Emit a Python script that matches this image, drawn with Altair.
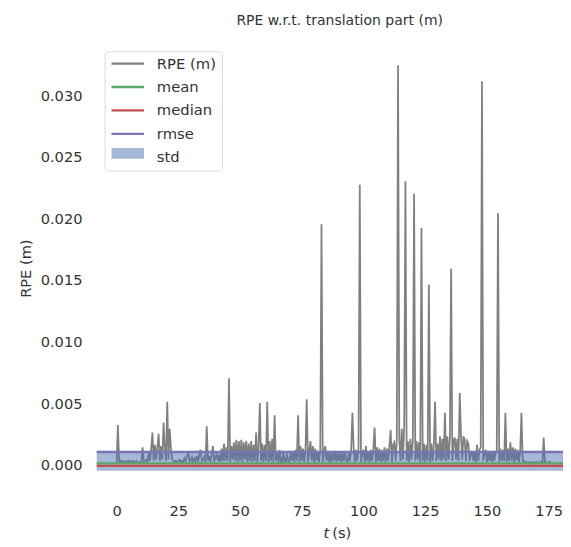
import altair as alt
import numpy as np
import pandas as pd

# ---------------- data ----------------
SAMPLE_STEP_S = 0.5  # one RPE sample every 0.5 s, starting at t = 0
# RPE values in units of 1e-4 m, ten samples (5 s) per row
rpe_1e4 = [
    3, 33, 3, 4, 3, 4, 3, 3, 4, 3,            # 0 s
    4, 3, 3, 4, 3, 3, 4, 3, 3, 3,             # 5 s
    3, 15, 3, 4, 5, 3, 10, 4, 14, 27,         # 10 s
    4, 17, 5, 15, 26, 4, 16, 5, 35, 14,       # 15 s
    4, 52, 5, 30, 14, 5, 4, 3, 4, 3,          # 20 s
    4, 5, 3, 4, 3, 6, 4, 8, 11, 4,            # 25 s
    4, 7, 3, 6, 4, 8, 3, 9, 13, 4,            # 30 s
    5, 7, 3, 32, 4, 8, 3, 9, 16, 4,           # 35 s
    6, 10, 4, 9, 3, 14, 4, 18, 4, 15,         # 40 s
    4, 71, 3, 16, 5, 19, 4, 21, 3, 20,        # 45 s
    4, 21, 3, 19, 5, 20, 3, 18, 4, 20,        # 50 s
    3, 17, 4, 27, 3, 15, 51, 4, 18, 3,        # 55 s
    17, 4, 52, 3, 20, 4, 22, 3, 41, 4,        # 60 s
    10, 3, 13, 4, 3, 12, 4, 3, 10, 4,         # 65 s
    3, 11, 4, 12, 3, 13, 4, 41, 3, 16,        # 70 s
    4, 14, 3, 12, 54, 3, 11, 20, 4, 16,       # 75 s
    3, 14, 4, 12, 3, 13, 196, 3, 10, 16,      # 80 s
    4, 12, 3, 10, 3, 11, 4, 12, 3, 10,        # 85 s
    4, 11, 3, 10, 4, 12, 4, 3, 10, 4,         # 90 s
    12, 43, 15, 3, 13, 4, 14, 228, 3, 10,     # 95 s
    13, 3, 16, 4, 12, 3, 13, 4, 14, 31,       # 100 s
    3, 15, 4, 14, 3, 13, 4, 15, 3, 14,        # 105 s
    4, 16, 29, 3, 17, 19, 4, 20, 325, 22,     # 110 s
    4, 30, 5, 33, 231, 4, 20, 3, 22, 5,       # 115 s
    20, 221, 4, 20, 5, 19, 3, 193, 4, 18,     # 120 s
    3, 17, 4, 147, 3, 18, 4, 17, 52, 4,       # 125 s
    18, 5, 24, 4, 22, 5, 43, 4, 24, 5,        # 130 s
    22, 160, 4, 20, 23, 5, 22, 4, 59, 24,     # 135 s
    5, 24, 21, 4, 20, 18, 4, 9, 12, 4,        # 140 s
    11, 3, 17, 4, 13, 15, 312, 4, 10, 13,     # 145 s
    3, 12, 4, 11, 3, 12, 4, 10, 13, 205,      # 150 s
    3, 14, 4, 13, 4, 43, 3, 14, 4, 19,        # 155 s
    4, 15, 3, 14, 4, 13, 3, 12, 43, 4,        # 160 s
    4, 3, 3, 2, 3, 3, 2, 3, 3, 2,             # 165 s
    3, 3, 2, 3, 3, 3, 23, 3, 3, 2,            # 170 s
    3, 3, 3,                                  # 175 s
]

stat_names = ["mean", "median", "rmse"]
stat_values = [0.0002, 0.0, 0.0011]
std_band = [-0.0004, 0.00125]  # lower / upper edge of the std band

line_names = ["RPE (m)", "mean", "median", "rmse", "std"]
line_colors = ["#808080", "#55A868", "#C44E52", "#8172B2", "transparent"]
band_names = ["std"]
band_colors = ["#4C72B0"]

x_ticks = [0, 25, 50, 75, 100, 125, 150, 175]
y_ticks = [0.0, 0.005, 0.010, 0.015, 0.020, 0.025, 0.030]

# ---------------- tables ----------------
t = np.arange(len(rpe_1e4)) * SAMPLE_STEP_S
rpe_df = pd.DataFrame({"t": t, "rpe": np.array(rpe_1e4) * 1e-4, "name": "RPE (m)"})
stats_df = pd.DataFrame({"name": stat_names, "value": stat_values})
band_df = pd.DataFrame({"name": band_names, "lo": [std_band[0]], "hi": [std_band[1]]})

FONT = "DejaVu Sans"
TXT = "#333333"

# legend with the line entries (its 5th row only carries the "std" label)
line_legend = alt.Legend(
    title=None, orient="none", legendX=8, legendY=8,
    labelFont=FONT, labelFontSize=15, labelColor=TXT,
    fillColor="white", strokeColor="#d9d9d9", cornerRadius=3, padding=5,
    symbolSize=121, rowPadding=7.75, labelOffset=33,
    symbolType="M-1,0H5", symbolStrokeWidth=2.3, symbolFillColor="transparent",
)
# legend drawing only the std patch, laid over the 5th row of the legend above
band_legend = alt.Legend(
    title=None, orient="none", legendX=13, legendY=104,
    labelFont=FONT, labelFontSize=15, labelOpacity=0, padding=0,
    symbolSize=121, symbolType="M-1,-1H5V1H-1Z", symbolStrokeWidth=0,
    symbolOpacity=0.5, zindex=2,
)

stroke_enc = alt.Stroke("name:N", scale=alt.Scale(domain=line_names, range=line_colors), legend=line_legend)
fill_enc = alt.Fill("name:N", scale=alt.Scale(domain=band_names, range=band_colors), legend=band_legend)

x_enc = alt.X(
    "t:Q",
    scale=alt.Scale(domain=[-8.07, 180.83], nice=False, zero=False),
    axis=alt.Axis(
        values=x_ticks, format="d", title=None, ticks=False, domain=False, grid=False,
        labelFont=FONT, labelFontSize=14.8, labelColor=TXT, labelPadding=11,
    ),
)
y_scale = alt.Scale(domain=[-0.0022, 0.03428], nice=False, zero=False)
y_axis = alt.Axis(
    values=y_ticks, format=".3f", title="RPE (m)", ticks=False, domain=False, grid=False,
    labelFont=FONT, labelFontSize=14.8, labelColor=TXT, labelPadding=15,
    titleFont=FONT, titleFontSize=14.8, titleFontWeight="normal", titleColor=TXT,
    titleX=-71, titleY=228, titleAngle=270, titleAlign="center", titleBaseline="middle",
)

line = alt.Chart(rpe_df).mark_line(strokeWidth=1.8).encode(
    x=x_enc,
    y=alt.Y("rpe:Q", scale=y_scale, axis=y_axis),
    stroke=stroke_enc,
)

band = alt.Chart(band_df).mark_rect(opacity=0.5).encode(
    y=alt.Y("lo:Q", scale=y_scale),
    y2="hi:Q",
    fill=fill_enc,
)

rules = alt.Chart(stats_df).mark_rule(strokeWidth=2.3).encode(
    y=alt.Y("value:Q", scale=y_scale),
    stroke=stroke_enc,
)

one = pd.DataFrame({"k": [0]})
xt_italic = alt.Chart(one).mark_text(
    text="t", font=FONT, fontSize=14.8, fontStyle="italic", color=TXT,
    align="center", baseline="middle",
).encode(x=alt.value(233), y=alt.value(498))
xt_unit = alt.Chart(one).mark_text(
    text="(s)", font=FONT, fontSize=14.8, color=TXT, align="left", baseline="middle",
).encode(x=alt.value(239), y=alt.value(498))

chart = (
    alt.layer(line, band, rules, xt_italic, xt_unit)
    .resolve_scale(y="shared")
    .properties(
        width=473,
        height=456,
        autosize=alt.AutoSizeParams(type="none"),
        padding={"left": 90, "top": 32, "right": 0, "bottom": 52},
        background="white",
        title=alt.TitleParams(
            "RPE w.r.t. translation part (m)", font=FONT, fontSize=14.2, fontWeight="normal",
            color=TXT, anchor="middle", dx=10, offset=4, baseline="alphabetic",
        ),
    )
    .configure_view(strokeWidth=0)
)

chart.save("out.html", embed_options={"renderer": "svg", "actions": False})
